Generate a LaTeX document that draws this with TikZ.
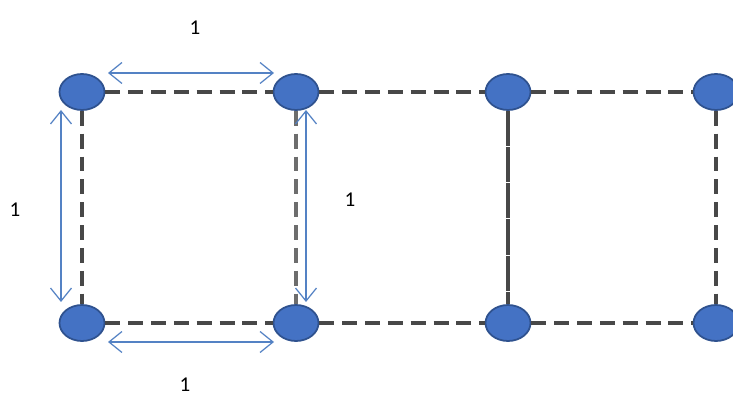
\documentclass[tikz,border=0pt]{standalone}
\usepackage{fontspec}
\setmainfont{Carlito}
\usetikzlibrary{arrows.meta,shapes.geometric}
\definecolor{dotblue}{RGB}{68,114,196}
\definecolor{dotrim}{RGB}{47,82,143}
\definecolor{arrblue}{RGB}{84,130,196}
\definecolor{gridgray}{RGB}{72,72,72}
\begin{document}
\begin{tikzpicture}[x=0.02cm,y=-0.02cm]
    \tikzset{
      dot/.style={ellipse,minimum width=0.9cm,minimum height=0.72cm,inner sep=0pt,
        fill=dotblue,draw=dotrim,line width=1pt},
      gridline/.style={gridgray,line width=2.6pt,dash pattern=on 8.5pt off 4.5pt},
      measure/.style={arrblue,line width=0.7pt,{Straight Barb[length=2.6mm,width=4.2mm]}-{Straight Barb[length=2.6mm,width=4.2mm]}},
      lab/.style={font=\large}
    }
    \useasboundingbox (0,0) rectangle (733,398);
    \fill[white] (0,0) rectangle (733,398);

        %DOTS top row
        \node[dot] (t1) at (82,92) {};
        \node[dot] (t2) at (296,92) {};
        \node[dot] (t3) at (508,92) {};
        \node[dot] (t4) at (716,92) {};
        %DOTS bottom row
        \node[dot] (b1) at (82,323) {};
        \node[dot] (b2) at (296,323) {};
        \node[dot] (b3) at (508,323) {};
        \node[dot] (b4) at (716,323) {};

        %GRID
        \draw[gridline] (t1) -- (t2);
        \draw[gridline] (t2) -- (t3);
        \draw[gridline] (t3) -- (t4);
        \draw[gridline] (b1) -- (b2);
        \draw[gridline] (b2) -- (b3);
        \draw[gridline] (b3) -- (b4);
        \draw[gridline] (t1) -- (b1);
        \draw[gridline,gridgray!80] (t2) -- (b2);
        \draw[gridline,dash pattern=on 20pt off 0.6pt] (t3) -- (b3);
        \draw[gridline] (t4) -- (b4);

        %MEASURES
        \coordinate (ta) at (108,73);  \coordinate (tb) at (274,73);
        \coordinate (ba) at (108,342); \coordinate (bb) at (274,342);
        \coordinate (la) at (61,110);  \coordinate (lb) at (61,302);
        \coordinate (ma) at (306,110); \coordinate (mb) at (306,302);
        \draw[measure] (ta) -- (tb);
        \draw[measure] (ba) -- (bb);
        \draw[measure] (la) -- (lb);
        \draw[measure] (ma) -- (mb);

    \node[lab] (top) at (195,28) {1};
    \node[lab] (left) at (15,210) {1};
    \node[lab] (mid) at (350,200) {1};
    \node[lab] (bot) at (185,385) {1};
    \end{tikzpicture}
\end{document}
